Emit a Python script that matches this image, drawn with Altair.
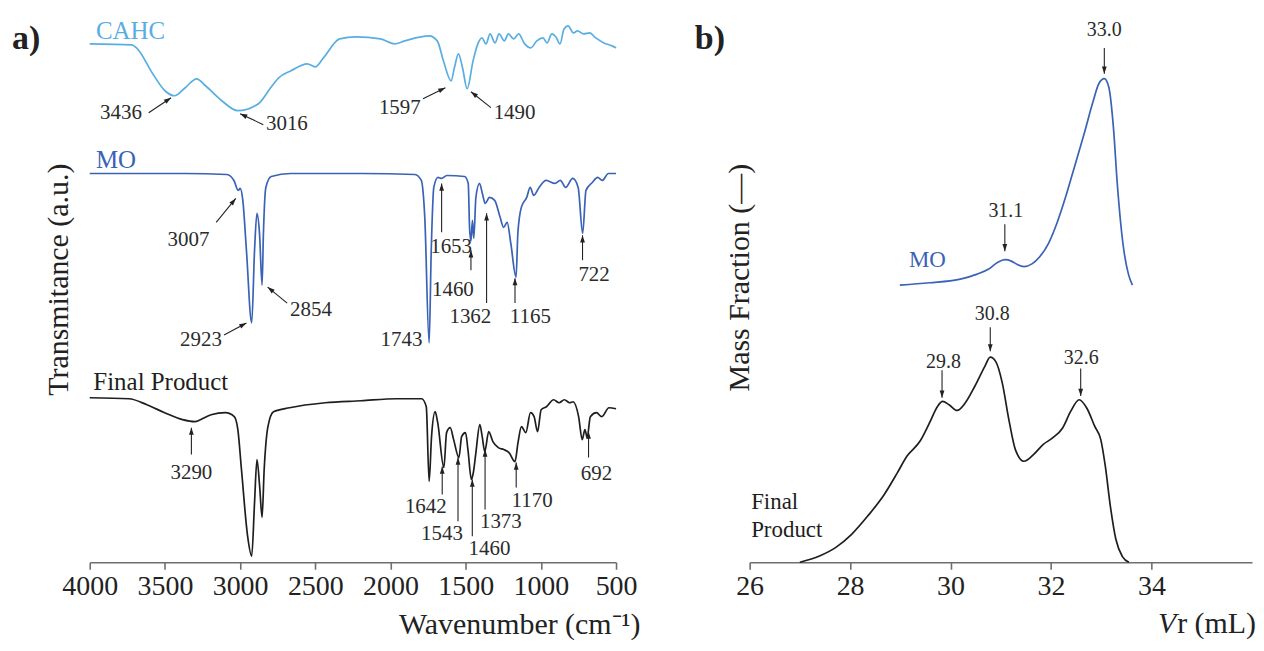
import math
import altair as alt
import pandas as pd

FONT = "Liberation Serif"
INK = "#222222"
NUM = "#2b2b2b"
C_CAHC = "#58AEE2"
C_MO = "#3A62B6"
C_FP = "#1E1E1E"

# ---------------- panel a : FT-IR spectra (offset, a.u.) ----------------
cahc_wn = [4000, 3720, 3689, 3581, 3500, 3436, 3365, 3289, 3230, 3122, 3016, 2878, 2797, 2743, 2662,
           2554, 2500, 2446, 2338, 2230, 2067, 1973, 1905, 1743, 1689, 1648, 1597, 1575, 1548, 1521,
           1490, 1451, 1419, 1392, 1365, 1338, 1305, 1278, 1243, 1216, 1181, 1148, 1108, 1067, 1027,
           986, 959, 927, 900, 873, 846, 819, 784, 756, 716, 675, 635, 581, 527, 500]
cahc_t = [520, 519, 516, 490, 473, 468, 476, 485, 478, 463, 453, 460, 476, 486, 493,
          500, 497, 506, 525, 527, 525, 520, 523, 528, 523, 503, 483, 496, 510, 496,
          475, 503, 520, 526, 520, 530, 521, 530, 523, 530, 525, 530, 520, 516, 523,
          526, 521, 530, 527, 520, 535, 538, 531, 533, 530, 531, 526, 521, 518, 516]

mo_wn = [4000, 3371, 3088, 3041, 3013, 3000, 2982, 2958, 2923, 2904, 2888, 2871, 2854, 2845, 2829,
         2793, 2663, 2191, 1837, 1795, 1772, 1743, 1729, 1712, 1684, 1660, 1625, 1507, 1483, 1474,
         1465, 1455, 1446, 1432, 1408, 1389, 1370, 1342, 1307, 1271, 1248, 1224, 1200, 1165, 1153,
         1130, 1094, 1071, 1047, 1012, 965, 906, 871, 835, 788, 752, 722, 700, 658, 622,
         592, 551, 500]
mo_t = [390, 390, 389, 383, 373, 375, 363, 313, 240, 313, 350, 330, 278, 330, 376,
        387, 390, 390, 389, 383, 346, 220, 313, 376, 386, 385, 388, 387, 380, 335,
        322, 343, 325, 366, 380, 370, 360, 366, 363, 346, 336, 341, 320, 286, 330,
        356, 366, 376, 368, 376, 383, 380, 383, 376, 385, 376, 330, 373, 381, 386,
        383, 390, 390]

fp_wn = [4000, 3739, 3620, 3502, 3383, 3300, 3264, 3193, 3098, 3039, 3015, 2991, 2950, 2923, 2904,
         2888, 2870, 2854, 2840, 2815, 2778, 2671, 2434, 2196, 1959, 1793, 1762, 1743, 1727, 1703,
         1686, 1645, 1627, 1603, 1580, 1545, 1527, 1501, 1485, 1462, 1449, 1432, 1406, 1390, 1373,
         1347, 1319, 1283, 1247, 1212, 1172, 1152, 1129, 1100, 1069, 1045, 1022, 998, 963, 915,
         879, 844, 808, 785, 749, 725, 707, 692, 671, 630, 595, 547, 500]
fp_t = [165, 164, 158, 150, 143, 141, 143, 148, 150, 146, 133, 93, 26, 6, 60,
        103, 76, 45, 93, 136, 151, 155, 160, 162, 164, 164, 156, 81, 126, 151,
        140, 95, 130, 135, 123, 105, 126, 130, 113, 83, 90, 110, 138, 126, 111,
        131, 121, 115, 113, 110, 101, 120, 136, 130, 150, 146, 131, 153, 156, 163,
        160, 163, 160, 161, 146, 123, 133, 125, 146, 150, 146, 155, 154]

SERIES = ["CAHC", "MO", "Final Product"]
COLORS = [C_CAHC, C_MO, C_FP]

# peak labels (text, wavenumber, offset level)
ir_lab_text = ["3436", "3016", "1597", "1490",
               "3007", "2923", "2854", "1743", "1653", "1460", "1362", "1165", "722",
               "3290", "1642", "1543", "1460", "1373", "1170", "692"]
ir_lab_wn = [3792, 2689, 1938, 1175,
             3343, 3260, 2529, 1927, 1597, 1585, 1469, 1070, 646,
             3324, 1765, 1658, 1342, 1266, 1058, 630]
ir_lab_t = [451, 440, 456, 451,
            323, 223, 253, 223, 316, 273, 246, 246, 288,
            90, 55, 28, 13, 40, 61, 88]

# arrows (tail -> head)
ir_arr_wn0 = [3608, 2846, 1784, 1332, 3159, 3107, 2687, 1660, 1465, 1361, 1172, 723,
              3324, 1656, 1551, 1456, 1371, 1164, 683]
ir_arr_t0 = [451, 439, 465, 456, 341, 228, 260, 331, 293, 260, 260, 303,
             108, 68, 41, 26, 53, 75, 105]
ir_arr_wn1 = [3459, 3000, 1635, 1465, 3029, 2958, 2817, 1660, 1465, 1361, 1172, 723,
              3324, 1656, 1551, 1456, 1371, 1164, 683]
ir_arr_t1 = [466, 450, 476, 472, 365, 240, 276, 380, 313, 350, 285, 328,
             135, 96, 105, 83, 113, 100, 131]

# series name labels
ir_name_text = ["CAHC", "MO", "Final Product"]
ir_name_wn = [3959, 3959, 3976]
ir_name_t = [533, 404, 181]

# ---------------- panel b : SEC mass fraction ----------------
sec_mo_vr = [28.99, 29.58, 30.17, 30.53, 30.76, 30.94, 31.08, 31.21, 31.33, 31.46, 31.62, 31.77, 31.95,
             32.12, 32.30, 32.48, 32.66, 32.83, 32.95, 33.06, 33.15, 33.24, 33.32, 33.43, 33.54, 33.62]
sec_mo_m = [278, 280.4, 283.8, 289, 294.2, 301, 303.5, 302.1, 298.6, 296.6, 299.3, 306.2, 320,
            340.6, 368.1, 399.1, 430.1, 461.1, 480, 485.1, 476.5, 437, 378.5, 320, 289, 278]

sec_fp_vr = [27.0, 27.39, 27.71, 28.03, 28.35, 28.68, 28.94, 29.13, 29.39, 29.58, 29.74, 29.84, 29.97,
             30.13, 30.29, 30.48, 30.68, 30.79, 30.9, 31.03, 31.16, 31.29, 31.46, 31.65, 31.84, 32.03,
             32.23, 32.39, 32.56, 32.71, 32.87, 32.99, 33.08, 33.18, 33.29, 33.42, 33.55]
sec_fp_m = [0, 6.3, 14.7, 28, 46.3, 68, 89.7, 106.3, 121.3, 139.7, 156.3, 161.3, 158,
            152.3, 159.7, 176.3, 196.3, 205.7, 201.3, 179.7, 143, 113, 101.3, 108, 118, 124.7,
            134.7, 151.3, 163, 154.7, 136.3, 123, 96.3, 56.3, 23, 5.7, 0]

sec_lab_text = ["33.0", "31.1", "30.8", "29.8", "32.6"]
sec_lab_vr = [33.06, 31.10, 30.83, 29.86, 32.60]
sec_lab_m = [533.5, 352.7, 249.4, 201, 204.7]
sec_arr_vr = [33.06, 31.08, 30.79, 29.83, 32.59]
sec_arr_m0 = [516, 339, 235.7, 192.6, 194.4]
sec_arr_m1 = [490, 312, 211.6, 165, 166.8]

sec_name_text = ["MO", "Final", "Product"]
sec_name_vr = [29.17, 26.03, 26.03]
sec_name_m = [303, 60, 32.6]
sec_name_col = ["MO", "Final Product", "Final Product"]

# ---------------- layout constants ----------------
WA, WB, H = 528, 504, 555
A_DOM = [4000, 500]
B_DOM = [26, 36]
PXA = WA / (A_DOM[0] - A_DOM[1])
PXB = WB / (B_DOM[1] - B_DOM[0])
PXY = 1.0
HEAD = "M0,0L-0.8,2.4L0.8,2.4Z"
COLOR_SCALE = alt.Scale(domain=SERIES, range=COLORS)
TITLE_DY = 71


def head_angle(dx, dy):
    return math.degrees(math.atan2(dx, -dy)) % 360


# ---------------- panel a build ----------------
ir_df = pd.concat([
    pd.DataFrame({"wn": w, "t": t, "series": s})
    for w, t, s in [(cahc_wn, cahc_t, "CAHC"), (mo_wn, mo_t, "MO"), (fp_wn, fp_t, "Final Product")]
])

xa_scale = alt.Scale(domain=A_DOM, nice=False, zero=False)
ya_scale = alt.Scale(domain=[0, H], nice=False, zero=False)
xa_axis = alt.Axis(values=[4000, 3500, 3000, 2500, 2000, 1500, 1000, 500], format="d",
                   title="Wavenumber (cm\u207b\u00b9)", labelFlush=False, labelOverlap=False,
                   titleX=552, titleY=TITLE_DY, titleAlign="right", titleBaseline="alphabetic",
                   grid=False)
ya_axis = alt.Axis(title="Transmitance (a.u.)", domain=False, ticks=False, labels=False, grid=False,
                   titleAngle=270, titleX=-22, titleY=271, titleAlign="center",
                   titleBaseline="alphabetic")


def XA(f="wn"):
    return alt.X(f"{f}:Q", scale=xa_scale, axis=xa_axis)


def YA(f="t"):
    return alt.Y(f"{f}:Q", scale=ya_scale, axis=ya_axis)


a_lines = alt.Chart(ir_df).mark_line(strokeWidth=1.7, interpolate="monotone").encode(
    x=XA(), y=YA(),
    color=alt.Color("series:N", scale=COLOR_SCALE, legend=None),
    order=alt.Order("wn:Q", sort="descending"),
)

arr_a = pd.DataFrame({"wn": ir_arr_wn0, "t": ir_arr_t0, "wn2": ir_arr_wn1, "t2": ir_arr_t1})
a_shafts = alt.Chart(arr_a).mark_rule(color=INK, strokeWidth=1.1).encode(
    x=XA(), y=YA(), x2="wn2:Q", y2="t2:Q")
heads_a = pd.DataFrame({
    "wn": ir_arr_wn1, "t": ir_arr_t1,
    "ang": [head_angle(-(w1 - w0) * PXA, -(t1 - t0) * PXY)
            for w0, t0, w1, t1 in zip(ir_arr_wn0, ir_arr_t0, ir_arr_wn1, ir_arr_t1)],
})
a_heads = alt.Chart(heads_a).mark_point(shape=HEAD, filled=True, size=36, color=INK,
                                         opacity=1, strokeWidth=0).encode(
    x=XA(), y=YA(), angle=alt.Angle("ang:Q", scale=None))

lab_a = pd.DataFrame({"wn": ir_lab_wn, "t": ir_lab_t, "lab": ir_lab_text})
a_labels = alt.Chart(lab_a).mark_text(font=FONT, fontSize=21, color=NUM, align="center",
                                       baseline="middle").encode(x=XA(), y=YA(), text="lab:N")

names_a = pd.DataFrame({"wn": ir_name_wn, "t": ir_name_t, "lab": ir_name_text})
a_names = alt.Chart(names_a).mark_text(font=FONT, fontSize=25, align="left", baseline="middle").encode(
    x=XA(), y=YA(), text="lab:N",
    color=alt.Color("lab:N", scale=COLOR_SCALE, legend=None))

tag_a = alt.Chart(pd.DataFrame({"lab": ["a)"]})).mark_text(
    font=FONT, fontSize=34, fontWeight="bold", color=INK, align="left", baseline="middle").encode(
    x=alt.value(-78), y=alt.value(30), text="lab:N")

panel_a = alt.layer(a_lines, a_shafts, a_heads, a_labels, a_names, tag_a).properties(
    width=WA, height=H)

# ---------------- panel b build ----------------
sec_df = pd.concat([
    pd.DataFrame({"vr": sec_mo_vr, "m": sec_mo_m, "series": "MO"}),
    pd.DataFrame({"vr": sec_fp_vr, "m": sec_fp_m, "series": "Final Product"}),
])
xb_scale = alt.Scale(domain=B_DOM, nice=False, zero=False)
yb_scale = alt.Scale(domain=[0, H], nice=False, zero=False)
xb_axis = alt.Axis(values=[26, 28, 30, 32, 34], format="d", title=None, labelFlush=False,
                   labelOverlap=False, grid=False)
yb_axis = alt.Axis(title="Mass Fraction (\u2014)", domain=False, ticks=False, labels=False, grid=False,
                   titleAngle=270, titleX=-1, titleY=269, titleAlign="center",
                   titleBaseline="alphabetic")


def XB(f="vr"):
    return alt.X(f"{f}:Q", scale=xb_scale, axis=xb_axis)


def YB(f="m"):
    return alt.Y(f"{f}:Q", scale=yb_scale, axis=yb_axis)


b_lines = alt.Chart(sec_df).mark_line(strokeWidth=1.7, interpolate="monotone").encode(
    x=XB(), y=YB(),
    color=alt.Color("series:N", scale=COLOR_SCALE, legend=None),
)

arr_b = pd.DataFrame({"vr": sec_arr_vr, "m": sec_arr_m0, "m2": sec_arr_m1})
b_shafts = alt.Chart(arr_b).mark_rule(color=INK, strokeWidth=1.1).encode(x=XB(), y=YB(), y2="m2:Q")
heads_b = pd.DataFrame({
    "vr": sec_arr_vr, "m": sec_arr_m1,
    "ang": [head_angle(0.0, -(m1 - m0) * PXY) for m0, m1 in zip(sec_arr_m0, sec_arr_m1)],
})
b_heads = alt.Chart(heads_b).mark_point(shape=HEAD, filled=True, size=36, color=INK,
                                         opacity=1, strokeWidth=0).encode(
    x=XB(), y=YB(), angle=alt.Angle("ang:Q", scale=None))

lab_b = pd.DataFrame({"vr": sec_lab_vr, "m": sec_lab_m, "lab": sec_lab_text})
b_labels = alt.Chart(lab_b).mark_text(font=FONT, fontSize=20, color=NUM, align="center",
                                       baseline="middle").encode(x=XB(), y=YB(), text="lab:N")

names_b = pd.DataFrame({"vr": sec_name_vr, "m": sec_name_m, "lab": sec_name_text, "col": sec_name_col})
b_names = alt.Chart(names_b).mark_text(font=FONT, fontSize=23, align="left", baseline="middle").encode(
    x=XB(), y=YB(), text="lab:N",
    color=alt.Color("col:N", scale=COLOR_SCALE, legend=None))

tag_b = alt.Chart(pd.DataFrame({"lab": ["b)"]})).mark_text(
    font=FONT, fontSize=34, fontWeight="bold", color=INK, align="left", baseline="middle").encode(
    x=alt.value(-55), y=alt.value(30), text="lab:N")

xtitle_b = alt.Chart(pd.DataFrame({"lab": ["r (mL)"]})).mark_text(
    font=FONT, fontSize=30, color=INK, align="right", baseline="alphabetic").encode(
    x=alt.value(WB + 4), y=alt.value(H + TITLE_DY), text="lab:N")
xtitle_b_v = alt.Chart(pd.DataFrame({"lab": ["V"]})).mark_text(
    font=FONT, fontSize=30, fontStyle="italic", color=INK, align="right", baseline="alphabetic").encode(
    x=alt.value(WB + 4 - 80), y=alt.value(H + TITLE_DY), text="lab:N")

panel_b = alt.layer(b_lines, b_shafts, b_heads, b_labels, b_names, tag_b, xtitle_b, xtitle_b_v).properties(
    width=WB, height=H)

chart = alt.hconcat(panel_a, panel_b, spacing=134, bounds="flush").properties(
    padding={"left": 4, "top": 0, "right": 0, "bottom": 0},
    background="white",
).configure_view(stroke=None).configure_axis(
    labelFont=FONT, labelFontSize=28, labelColor=INK, labelPadding=3,
    titleFont=FONT, titleFontSize=30, titleFontWeight="normal", titleColor=INK,
    domainColor="#6e6e6e", domainWidth=1.6, tickColor="#6e6e6e", tickWidth=1.6, tickSize=7,
)

chart.save("out.html", embed_options={"renderer": "svg", "actions": False})
